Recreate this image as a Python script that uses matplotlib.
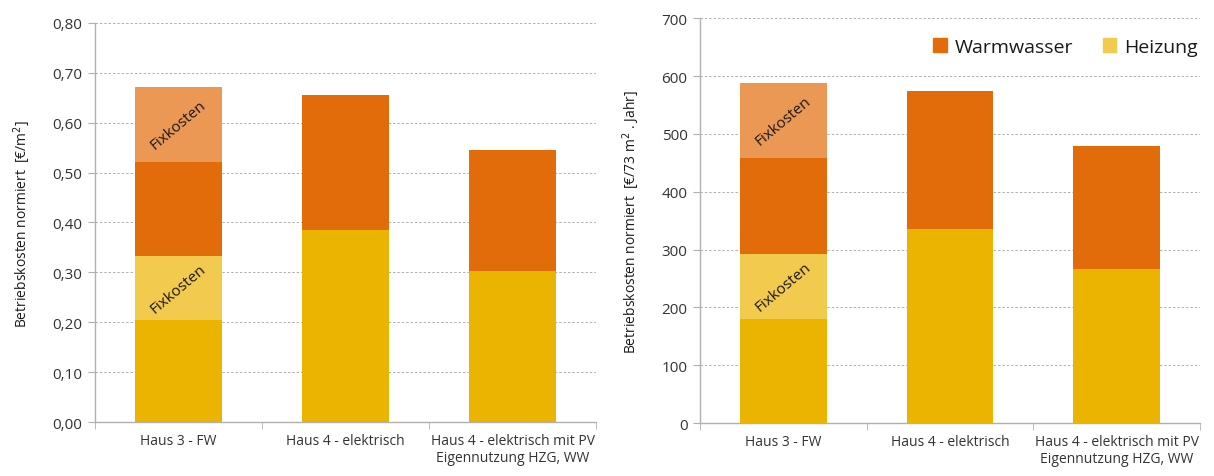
import numpy as np
import matplotlib.pyplot as plt
from matplotlib.ticker import FixedLocator, FuncFormatter
from matplotlib.patches import Patch

plt.rcParams['font.family'] = ['Open Sans', 'DejaVu Sans']

categories = ['Haus 3 - FW', 'Haus 4 - elektrisch', 'Haus 4 - elektrisch mit PV\nEigennutzung HZG, WW']

# left chart: EUR per m2
heiz_l = [0.205, 0.384, 0.303]
heiz_fix_l = [0.127, 0.0, 0.0]
ww_l = [0.190, 0.272, 0.243]
ww_fix_l = [0.150, 0.0, 0.0]

# right chart: EUR per 73 m2 and year
heiz_r = [180, 336, 266]
heiz_fix_r = [112, 0, 0]
ww_r = [166, 239, 213]
ww_fix_r = [130, 0, 0]

c_heiz = '#EBB400'
c_heiz_fix = '#F2CA4E'
c_ww = '#E36C0A'
c_ww_fix = '#EB9855'
grid_c = '#B0B0B0'
text_c = '#333333'

fig = plt.figure(figsize=(12.14, 4.77), dpi=100)
ax1 = fig.add_axes([0.0783, 0.1132, 0.4127, 0.8365])
ax2 = fig.add_axes([0.5766, 0.1111, 0.4119, 0.8484])


def draw(ax, heiz, heiz_fix, ww, ww_fix, ymax, step, fmt, ylabel, lpad):
    x = np.arange(len(categories))
    w = 0.52
    b1 = np.array(heiz)
    b2 = b1 + np.array(heiz_fix)
    b3 = b2 + np.array(ww)
    ax.bar(x, heiz, w, color=c_heiz, zorder=3)
    ax.bar(x, heiz_fix, w, bottom=b1, color=c_heiz_fix, zorder=3)
    ax.bar(x, ww, w, bottom=b2, color=c_ww, zorder=3)
    ax.bar(x, ww_fix, w, bottom=b3, color=c_ww_fix, zorder=3)
    # Fixkosten labels
    ax.text(x[0], b1[0] + heiz_fix[0] / 2, 'Fixkosten', rotation=40, ha='center', va='center',
            fontsize=11, color='#1a1a1a', zorder=4)
    ax.text(x[0], b3[0] + ww_fix[0] / 2, 'Fixkosten', rotation=40, ha='center', va='center',
            fontsize=11, color='#1a1a1a', zorder=4)

    ax.set_xlim(-0.5, len(categories) - 0.5)
    ax.set_ylim(0, ymax)
    ticks = np.arange(0, ymax + step / 2, step)
    ax.set_yticks(ticks)
    ax.yaxis.set_major_formatter(FuncFormatter(fmt))
    ax.yaxis.grid(True, color=grid_c, linestyle=(0, (2.5, 2)), linewidth=0.7)
    ax.set_axisbelow(True)

    ax.set_xticks(x)
    ax.set_xticklabels(categories, fontsize=10, color=text_c)
    ax.xaxis.set_minor_locator(FixedLocator(np.arange(-0.5, len(categories), 1.0)))
    ax.tick_params(axis='x', which='major', length=0, pad=8)
    ax.tick_params(axis='x', which='minor', length=5, color=grid_c, direction='out')
    ax.tick_params(axis='y', length=5, color=grid_c, labelsize=11, labelcolor=text_c, pad=4)

    for s in ['top', 'right']:
        ax.spines[s].set_visible(False)
    for s in ['left', 'bottom']:
        ax.spines[s].set_color(grid_c)
        ax.spines[s].set_linewidth(1.0)
    ax.set_ylabel(ylabel, fontsize=10, color='#1a1a1a', labelpad=lpad)


draw(ax1, heiz_l, heiz_fix_l, ww_l, ww_fix_l, 0.8, 0.1,
     lambda v, p: f'{v:.2f}'.replace('.', ','), 'Betriebskosten normiert  [€/m$^2$]', 14)
draw(ax2, heiz_r, heiz_fix_r, ww_r, ww_fix_r, 700, 100,
     lambda v, p: f'{v:.0f}', 'Betriebskosten normiert  [€/73 m$^2$ . Jahr]', 14)

# legend in right chart
handles = [Patch(color=c_ww, label='Warmwasser'), Patch(color=c_heiz_fix, label='Heizung')]
ax2.legend(handles=handles, loc='upper right', bbox_to_anchor=(1.03, 0.995), ncol=2,
           frameon=False, fontsize=14, handlelength=0.7, handleheight=0.7,
           handletextpad=0.4, columnspacing=1.5, labelcolor='#1a1a1a')

fig.savefig('out.png', dpi=100)
